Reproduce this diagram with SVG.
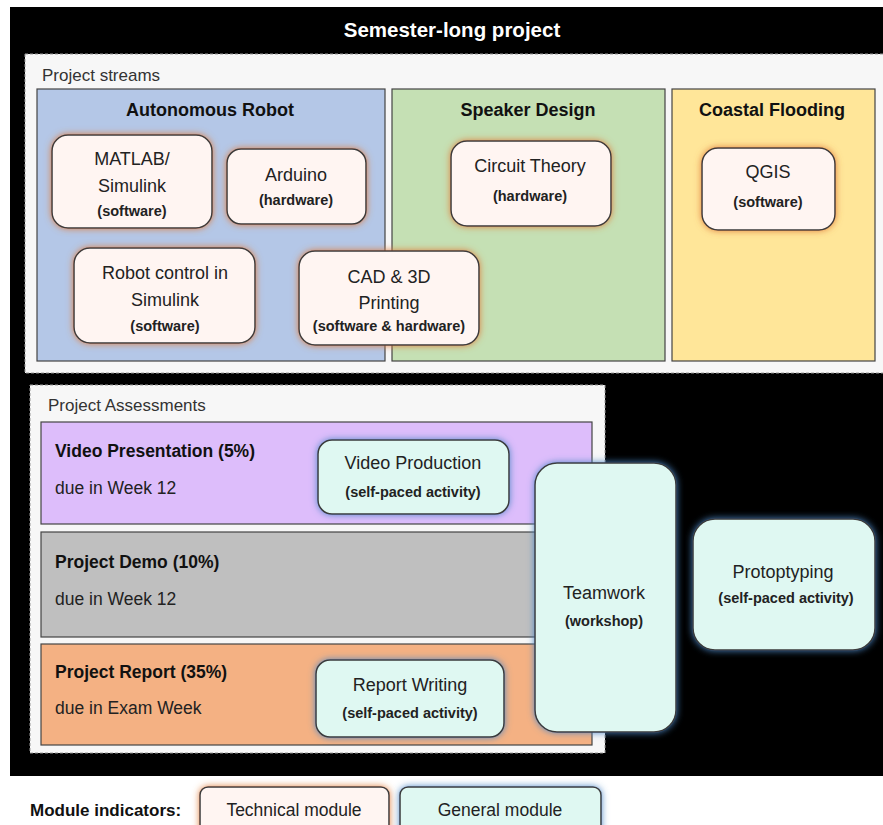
<svg xmlns="http://www.w3.org/2000/svg" width="883" height="825" viewBox="0 0 883 825">
<style>
text{font-family:"Liberation Sans",Arial,sans-serif;fill:#222}
.t{font-size:18px;text-anchor:middle}
.s{font-size:14.5px;font-weight:bold;text-anchor:middle}
.h{font-size:18px;font-weight:bold;text-anchor:middle;fill:#111}
.lab{font-size:17px;fill:#333}
.ab{font-size:17.5px;font-weight:bold;fill:#111}
.ad{font-size:17.5px;fill:#222}
.tech{fill:#FFF5F2;stroke:#3a3a3a;stroke-width:1.5;filter:url(#og)}
.gen{fill:#DFF8F2;stroke:#3a3a3a;stroke-width:1.5;filter:url(#bg)}
.dash{fill:#F7F7F7;stroke:#9a9a9a;stroke-width:1;stroke-dasharray:3 2}
.str{stroke:#444;stroke-width:1.2}
</style>
<defs>
<filter id="og" x="-20%" y="-20%" width="140%" height="140%">
<feGaussianBlur in="SourceAlpha" stdDeviation="3.5" result="b"/>
<feFlood flood-color="#E07B39" flood-opacity="0.95"/>
<feComposite in2="b" operator="in" result="g"/>
<feMerge><feMergeNode in="g"/><feMergeNode in="SourceGraphic"/></feMerge>
</filter>
<filter id="bg" x="-20%" y="-20%" width="140%" height="140%">
<feGaussianBlur in="SourceAlpha" stdDeviation="3.5" result="b"/>
<feFlood flood-color="#4A86C5" flood-opacity="0.95"/>
<feComposite in2="b" operator="in" result="g"/>
<feMerge><feMergeNode in="g"/><feMergeNode in="SourceGraphic"/></feMerge>
</filter>
</defs>
<rect x="0" y="0" width="883" height="825" fill="#ffffff"/>
<g id="semester">
<rect x="10" y="7" width="873" height="769" fill="#000000"/>
<text x="452" y="37" style="font-size:20.5px;font-weight:bold;fill:#ffffff;text-anchor:middle">Semester-long project</text>
</g>
<g id="streams">
<rect class="dash" x="25" y="54" width="870" height="319"/>
<text class="lab" x="42" y="81">Project streams</text>
</g>
<g id="stream-robot">
<rect class="str" x="37" y="89" width="348" height="272" fill="#B4C7E7"/>
<text class="h" x="210" y="116">Autonomous Robot</text>
</g>
<g id="stream-speaker">
<rect class="str" x="392" y="89" width="273" height="272" fill="#C5E0B4"/>
<text class="h" x="528" y="116">Speaker Design</text>
</g>
<g id="stream-coastal">
<rect class="str" x="672" y="89" width="203" height="272" fill="#FFE699"/>
<text class="h" x="772" y="116">Coastal Flooding</text>
</g>
<g id="matlab">
<rect class="tech" x="52" y="135" width="160" height="93" rx="16"/>
<text class="t" x="132" y="165">MATLAB/</text>
<text class="t" x="132" y="192">Simulink</text>
<text class="s" x="132" y="216">(software)</text>
</g>
<g id="arduino">
<rect class="tech" x="227" y="149" width="139" height="75" rx="14"/>
<text class="t" x="296" y="181">Arduino</text>
<text class="s" x="296" y="205">(hardware)</text>
</g>
<g id="robotcontrol">
<rect class="tech" x="74" y="248" width="181" height="95" rx="16"/>
<text class="t" x="165" y="279">Robot control in</text>
<text class="t" x="165" y="306">Simulink</text>
<text class="s" x="165" y="331">(software)</text>
</g>
<g id="cad">
<rect class="tech" x="299" y="251" width="180" height="94" rx="16"/>
<text class="t" x="389" y="283">CAD &amp; 3D</text>
<text class="t" x="389" y="309">Printing</text>
<text class="s" x="389" y="331">(software &amp; hardware)</text>
</g>
<g id="circuit">
<rect class="tech" x="451" y="141" width="160" height="85" rx="16"/>
<text class="t" x="530" y="172">Circuit Theory</text>
<text class="s" x="530" y="201">(hardware)</text>
</g>
<g id="qgis">
<rect class="tech" x="702" y="148" width="133" height="82" rx="16"/>
<text class="t" x="768" y="178">QGIS</text>
<text class="s" x="768" y="207">(software)</text>
</g>
<g id="assessments">
<rect class="dash" x="30" y="385" width="575" height="368"/>
<text class="lab" x="48" y="411">Project Assessments</text>
</g>
<g id="video">
<rect class="str" x="41" y="422" width="551" height="102" fill="#DDBDFB"/>
<text class="ab" x="55" y="457">Video Presentation (5%)</text>
<text class="ad" x="55" y="494">due in Week 12</text>
</g>
<g id="demo">
<rect class="str" x="41" y="532" width="551" height="105" fill="#BFBFBF"/>
<text class="ab" x="55" y="568">Project Demo (10%)</text>
<text class="ad" x="55" y="605">due in Week 12</text>
</g>
<g id="report">
<rect class="str" x="41" y="644" width="551" height="101" fill="#F4B183"/>
<text class="ab" x="55" y="678">Project Report (35%)</text>
<text class="ad" x="55" y="714">due in Exam Week</text>
</g>
<g id="videoprod">
<rect class="gen" x="318" y="440" width="191" height="74" rx="14"/>
<text class="t" x="413" y="469">Video Production</text>
<text class="s" x="413" y="497">(self-paced activity)</text>
</g>
<g id="reportwriting">
<rect class="gen" x="316" y="660" width="188" height="77" rx="14"/>
<text class="t" x="410" y="691">Report Writing</text>
<text class="s" x="410" y="718">(self-paced activity)</text>
</g>
<g id="teamwork">
<rect class="gen" x="535" y="463" width="141" height="269" rx="22"/>
<text class="t" x="604" y="599">Teamwork</text>
<text class="s" x="604" y="626">(workshop)</text>
</g>
<g id="prototyping">
<rect class="gen" x="693" y="519" width="182" height="131" rx="22"/>
<text class="t" x="783" y="578">Protoptyping</text>
<text class="s" x="786" y="603">(self-paced activity)</text>
</g>
<g id="connectors"></g>
<g id="legend">
<text x="30" y="816" style="font-size:17px;font-weight:bold;fill:#111">Module indicators:</text>
<g id="legend-tech">
<rect class="tech" x="200" y="787" width="189" height="50" rx="8"/>
<text class="t" x="294" y="816" style="font-size:17.5px">Technical module</text>
</g>
<g id="legend-gen">
<rect class="gen" x="400" y="787" width="201" height="50" rx="8"/>
<text class="t" x="500" y="816" style="font-size:17.5px">General module</text>
</g>
</g>
</svg>
